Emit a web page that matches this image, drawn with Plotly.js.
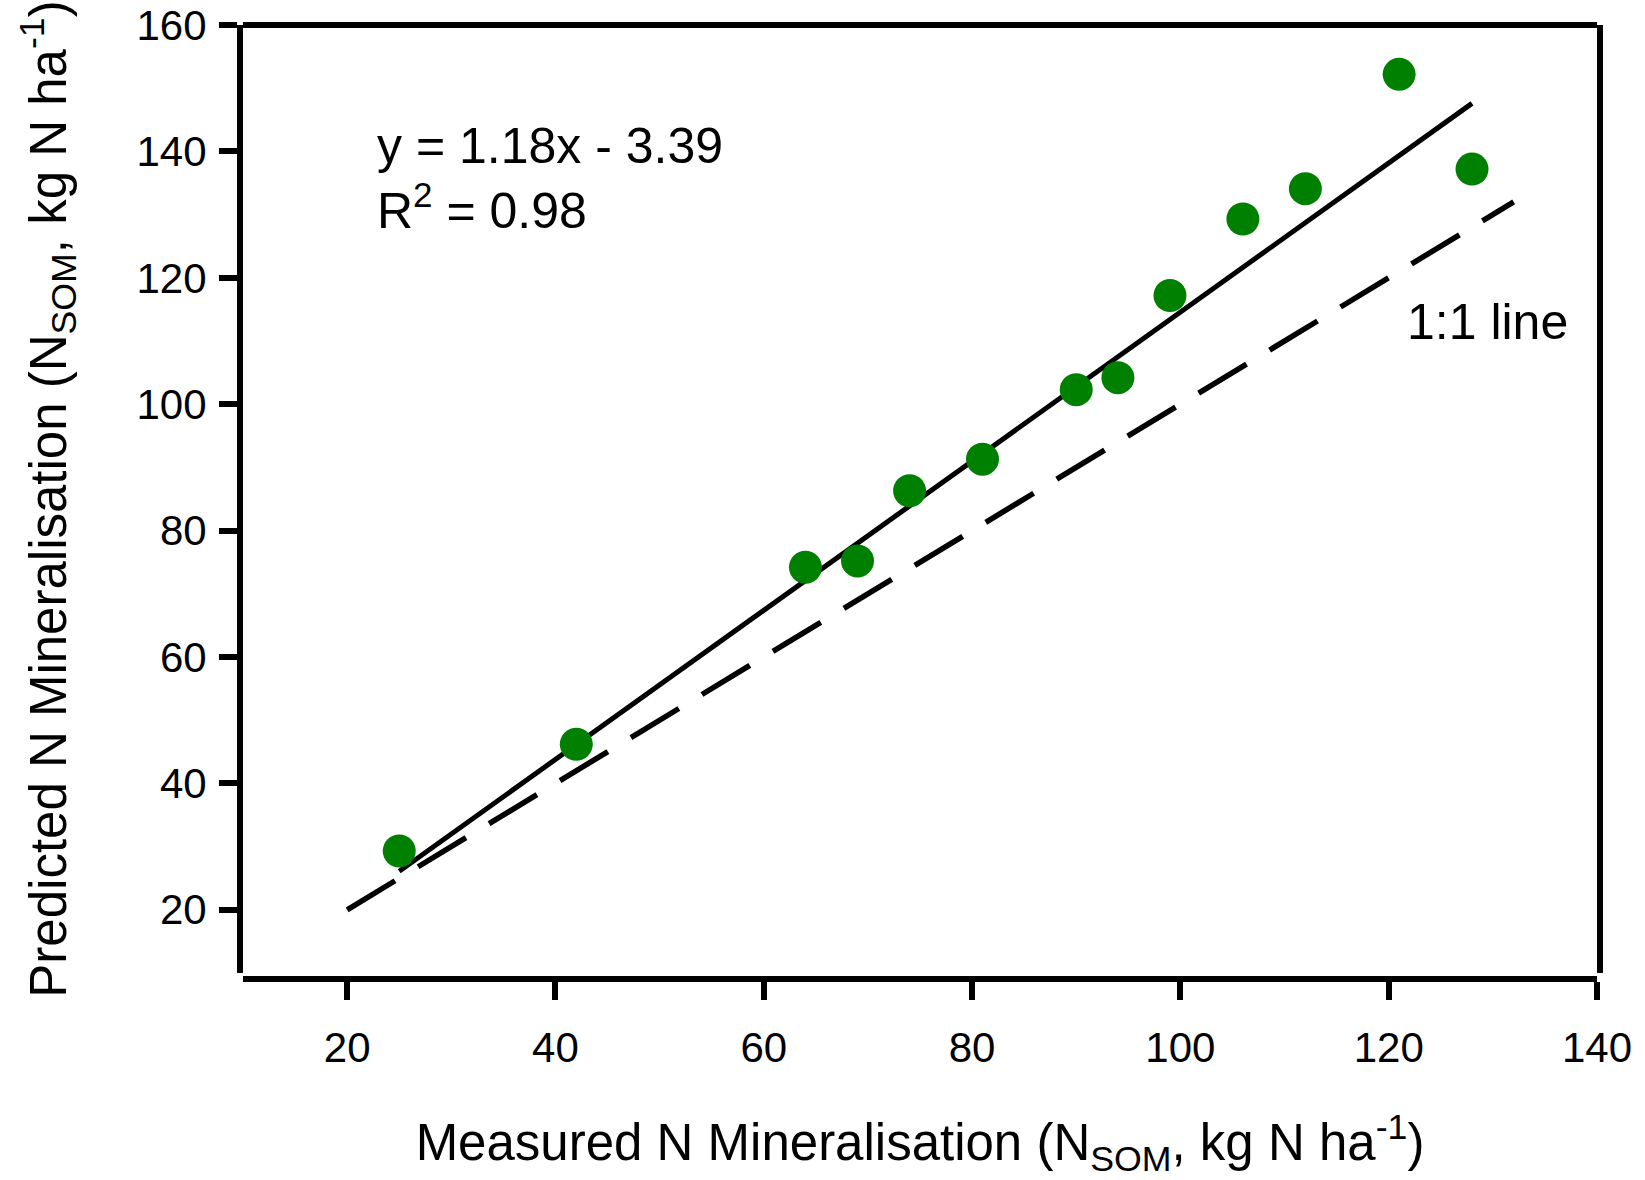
<!DOCTYPE html>
<html>
<head>
<meta charset="utf-8">
<script src="https://cdn.plot.ly/plotly-3.0.1.min.js"></script>
<style>html,body{margin:0;padding:0;background:#fff;}#chart{width:1645px;height:1180px;}</style>
</head>
<body>
<div id="chart"></div>
<script>
// Measured vs predicted N mineralisation (kg N ha-1)
var measured  = [25, 42, 64, 69, 74, 81, 90, 94, 99, 106, 112, 121, 128];
var predicted = [29.3, 46.2, 74.2, 75.2, 86.3, 91.3, 102.3, 104.2, 117.2, 129.3, 134.1, 152.2, 137.2];
// regression line y = 1.18x - 3.39 over the data range
var fitX = [25, 128];
var fitY = [26.1, 147.6];
// 1:1 line
var oneX = [20, 132];
var oneY = [20, 132];
var xTicks = [20, 40, 60, 80, 100, 120, 140];
var yTicks = [20, 40, 60, 80, 100, 120, 140, 160];

var FONT = 'Liberation Sans, Arial, Helvetica, sans-serif';

var traces = [
  {x: oneX, y: oneY, mode: 'lines', type: 'scatter',
   line: {color: '#000', width: 5.5, dash: '56px,27px'}, hoverinfo: 'skip'},
  {x: fitX, y: fitY, mode: 'lines', type: 'scatter',
   line: {color: '#000', width: 5}, hoverinfo: 'skip'},
  {x: measured, y: predicted, mode: 'markers', type: 'scatter',
   marker: {color: '#008000', size: 33, line: {width: 0}}}
];

var layout = {
  width: 1645, height: 1180,
  margin: {l: 243, r: 48, t: 25, b: 201},
  paper_bgcolor: '#fff', plot_bgcolor: '#fff',
  showlegend: false,
  font: {family: FONT, color: '#000'},
  xaxis: {
    range: [10, 140], anchor: 'free', position: 0,
    tickvals: xTicks, ticktext: xTicks.map(String),
    showline: true, linecolor: '#000', linewidth: 6,
    ticks: 'outside', ticklen: 18, tickwidth: 6, tickcolor: '#000',
    showgrid: false, zeroline: false,
    tickfont: {size: 42, family: FONT, color: '#000'},
    ticklabelstandoff: 12,
    title: {text: 'Measured N Mineralisation (N<sub>SOM</sub>, kg N ha<sup>-1</sup>)',
            font: {size: 51, family: FONT, color: '#000'}, standoff: 53}
  },
  yaxis: {
    range: [10, 160], domain: [0.0063, 1],
    tickvals: yTicks, ticktext: yTicks.map(String),
    showline: true, mirror: true, linecolor: '#000', linewidth: 6,
    ticks: 'outside', ticklen: 18, tickwidth: 6, tickcolor: '#000',
    showgrid: false, zeroline: false,
    tickfont: {size: 42, family: FONT, color: '#000'},
    ticklabelstandoff: 4,
    title: {text: 'Predicted N Mineralisation (N<sub>SOM</sub>, kg N ha<sup>-1</sup>)',
            font: {size: 51, family: FONT, color: '#000'}, standoff: 56}
  },
  shapes: [
    {type: 'line', xref: 'paper', yref: 'paper', x0: 0, x1: 1, y0: 1, y1: 1,
     line: {color: '#000', width: 6}}
  ],
  annotations: [
    {x: 22.7, y: 140.8, xref: 'x', yref: 'y', xanchor: 'left', yanchor: 'middle',
     text: 'y = 1.18x - 3.39', showarrow: false, font: {size: 50, family: FONT, color: '#000'}},
    {x: 22.7, y: 131.2, xref: 'x', yref: 'y', xanchor: 'left', yanchor: 'middle',
     text: 'R<sup>2</sup> = 0.98', showarrow: false, font: {size: 50, family: FONT, color: '#000'}},
    {x: 121.6, y: 113, xref: 'x', yref: 'y', xanchor: 'left', yanchor: 'middle',
     text: '1:1 line', showarrow: false, font: {size: 50, family: FONT, color: '#000'}}
  ]
};

Plotly.newPlot('chart', traces, layout, {displayModeBar: false, staticPlot: true});
</script>
</body>
</html>
